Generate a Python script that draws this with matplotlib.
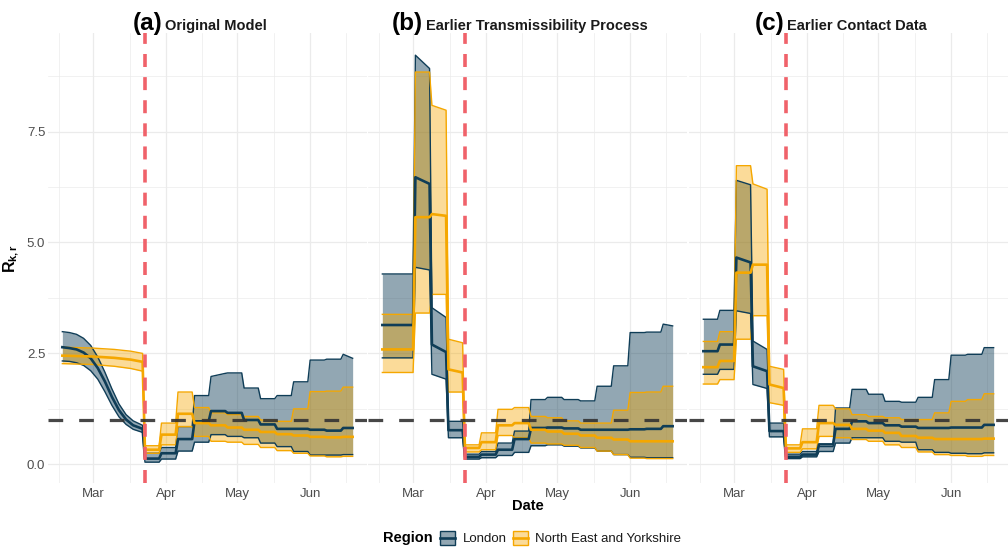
import numpy as np
import matplotlib
matplotlib.use("Agg")
import matplotlib.pyplot as plt
import matplotlib.dates as mdates
from matplotlib.offsetbox import TextArea, HPacker, AnchoredOffsetbox
from matplotlib.patches import Patch, Rectangle
from matplotlib.lines import Line2D
from matplotlib.legend_handler import HandlerBase
from matplotlib.colors import to_rgba

plt.rcParams['font.family'] = ['Liberation Sans', 'DejaVu Sans']
plt.rcParams['mathtext.fontset'] = 'custom'
plt.rcParams['mathtext.rm'] = 'Liberation Sans'
plt.rcParams['mathtext.bf'] = 'Liberation Sans:bold'
plt.rcParams['mathtext.it'] = 'Liberation Sans:italic'

# ---------------- data ----------------
REGIONS = ["London", "North East and Yorkshire"]
PANEL_LETTERS = ["(a)", "(b)", "(c)"]
PANEL_TITLES = ["Original Model", "Earlier Transmissibility Process", "Earlier Contact Data"]
MONTH_TICKS = ["2020-03-01", "2020-04-01", "2020-05-01", "2020-06-01"]
Y_TICKS = [0.0, 2.5, 5.0, 7.5]
Y_TICK_LABELS = ["0.0", "2.5", "5.0", "7.5"]
LOCKDOWN = "2020-03-23"
THRESHOLD = 1.0
END_DATE = "2020-06-19"

# weekly segments after lockdown (start dates)
POST_STARTS = ["2020-03-23", "2020-03-30", "2020-04-06", "2020-04-13", "2020-04-20",
               "2020-04-27", "2020-05-04", "2020-05-11", "2020-05-18", "2020-05-25",
               "2020-06-01", "2020-06-08", "2020-06-15"]

# ---- panel (a): smooth pre-lockdown curves ----
A_LON_PRE_DATES = ["2020-02-17", "2020-02-20", "2020-02-23", "2020-02-26", "2020-02-29",
                   "2020-03-03", "2020-03-06", "2020-03-09", "2020-03-12", "2020-03-15",
                   "2020-03-18", "2020-03-22"]
A_LON_PRE_HI = [2.99, 2.97, 2.93, 2.84, 2.68, 2.42, 2.08, 1.70, 1.36, 1.12, 0.98, 0.88]
A_LON_PRE_MED = [2.64, 2.62, 2.59, 2.52, 2.39, 2.17, 1.87, 1.52, 1.22, 1.01, 0.88, 0.80]
A_LON_PRE_LO = [2.33, 2.32, 2.29, 2.23, 2.11, 1.92, 1.64, 1.33, 1.07, 0.90, 0.79, 0.72]

A_NE_PRE_DATES = ["2020-02-17", "2020-03-01", "2020-03-10", "2020-03-17", "2020-03-22"]
A_NE_PRE_HI = [2.64, 2.62, 2.59, 2.55, 2.50]
A_NE_PRE_MED = [2.45, 2.43, 2.40, 2.36, 2.31]
A_NE_PRE_LO = [2.27, 2.25, 2.21, 2.16, 2.10]

# ---- panel (a): weekly post-lockdown ----
A_LON_HI = [0.25, 0.38, 0.85, 1.55, (1.98, 2.05), 2.06, 1.72, 1.48, 1.55, 1.86, 2.35, 2.37, (2.48, 2.39)]
A_LON_MED = [0.13, 0.25, 0.57, 0.97, 1.20, 1.16, 1.00, 0.90, 0.80, 0.80, 0.78, 0.76, 0.82]
A_LON_LO = [0.05, 0.12, 0.30, 0.50, 0.67, 0.63, 0.60, 0.48, 0.40, 0.29, 0.21, 0.21, 0.22]
A_NE_HI = [0.42, 0.93, 1.63, 1.28, 1.16, 1.12, 1.08, 1.00, 0.97, 1.25, 1.64, 1.65, 1.74]
A_NE_MED = [0.33, 0.67, 1.14, 0.93, 0.88, 0.83, 0.78, 0.73, 0.68, 0.65, 0.62, 0.61, 0.62]
A_NE_LO = [0.25, 0.44, 0.85, 0.63, 0.52, 0.50, 0.45, 0.38, 0.31, 0.25, 0.19, 0.17, 0.18]

# ---- panel (b): weekly segments ----
B_PRE_STARTS = ["2020-02-17", "2020-03-02", "2020-03-09", "2020-03-16"]
B_LON_HI = [4.29, (9.22, 8.92), (3.53, 3.31), 0.97,
            0.23, 0.29, 0.48, 0.75, 1.46, 1.51, 1.46, 1.43, 1.76, 2.22, 2.97, 2.98, (3.16, 3.12)]
B_LON_MED = [3.14, (6.47, 6.32), (2.70, 2.53), 0.77,
             0.17, 0.22, 0.33, 0.57, 0.82, 0.83, 0.81, 0.78, 0.78, 0.78, 0.79, 0.80, 0.86]
B_LON_LO = [2.40, (4.44, 4.38), (2.03, 1.92), 0.60,
            0.12, 0.15, 0.20, 0.27, 0.42, 0.44, 0.41, 0.37, 0.30, 0.22, 0.16, 0.15, 0.15]
B_NE_HI = [3.38, 8.84, (8.09, 7.98), (2.82, 2.74),
           0.44, 0.71, 1.24, 1.28, 1.08, 1.05, 0.98, 0.93, 0.93, 1.22, 1.62, 1.63, 1.76]
B_NE_MED = [2.59, 5.57, (5.64, 5.60), (2.14, 2.07),
            0.37, 0.50, 0.88, 0.93, 0.78, 0.74, 0.69, 0.65, 0.60, 0.56, 0.52, 0.52, 0.52]
B_NE_LO = [2.07, 3.41, 3.83, 1.63,
           0.28, 0.33, 0.65, 0.60, 0.48, 0.46, 0.43, 0.38, 0.30, 0.22, 0.14, 0.13, 0.13]

# ---- panel (c): weekly segments ----
C_PRE_STARTS = ["2020-02-17", "2020-02-24", "2020-03-02", "2020-03-09", "2020-03-16"]
C_LON_HI = [3.27, 3.47, (6.40, 6.30), (2.78, 2.59), 0.93,
            0.23, 0.29, 0.40, 1.27, 1.69, 1.58, 1.42, 1.40, 1.51, 1.91, 2.46, 2.48, 2.63]
C_LON_MED = [2.55, 2.70, (4.66, 4.55), (2.21, 2.10), 0.75,
             0.17, 0.22, 0.45, 0.80, 0.97, 0.93, 0.88, 0.85, 0.82, 0.82, 0.83, 0.83, 0.89]
C_LON_LO = [2.03, 2.14, (3.46, 3.40), (1.80, 1.71), 0.62,
            0.13, 0.17, 0.29, 0.48, 0.60, 0.60, 0.52, 0.50, 0.33, 0.27, 0.25, 0.24, 0.26]
C_NE_HI = [2.77, 2.99, 6.73, (6.32, 6.20), (2.21, 2.14),
           0.44, 0.80, 1.33, 1.25, 1.12, 1.08, 1.05, 1.01, 1.01, 1.16, 1.42, 1.46, 1.59]
C_NE_MED = [2.19, 2.33, 4.32, 4.50, (1.80, 1.72),
            0.36, 0.50, 0.93, 0.89, 0.80, 0.76, 0.71, 0.64, 0.60, 0.57, 0.57, 0.57, 0.58]
C_NE_LO = [1.81, 1.91, 2.82, 3.35, (1.39, 1.33),
           0.27, 0.35, 0.63, 0.60, 0.56, 0.52, 0.44, 0.38, 0.28, 0.22, 0.20, 0.18, 0.20]

# ---------------- styling ----------------
LON_COL = "#0f3d57"
NE_COL = "#f5a700"
LON_FILL = to_rgba(LON_COL, 0.45)
NE_FILL = to_rgba(NE_COL, 0.40)
RED = "#f0626a"
GRID = "#ebebeb"
TXT_GREY = "#4d4d4d"


def step_points(starts, end, values):
    xs, ys = [], []
    ds = [np.datetime64(s) for s in starts]
    for i, v in enumerate(values):
        s = ds[i]
        e = ds[i + 1] - np.timedelta64(1, 'D') if i + 1 < len(ds) else np.datetime64(end)
        v0, v1 = v if isinstance(v, tuple) else (v, v)
        xs += [s, e]
        ys += [v0, v1]
    return np.array(xs, dtype='datetime64[D]'), np.array(ys)


def series(pre_dates, pre_vals, starts, step_vals):
    xs, ys = step_points(starts, END_DATE, step_vals)
    if pre_dates is not None:
        px = np.array([np.datetime64(d) for d in pre_dates], dtype='datetime64[D]')
        xs = np.concatenate([px, xs])
        ys = np.concatenate([np.array(pre_vals), ys])
    return xs, ys


panels = []
lon = [series(A_LON_PRE_DATES, v0, POST_STARTS, v1) for v0, v1 in
       [(A_LON_PRE_LO, A_LON_LO), (A_LON_PRE_MED, A_LON_MED), (A_LON_PRE_HI, A_LON_HI)]]
ne = [series(A_NE_PRE_DATES, v0, POST_STARTS, v1) for v0, v1 in
      [(A_NE_PRE_LO, A_NE_LO), (A_NE_PRE_MED, A_NE_MED), (A_NE_PRE_HI, A_NE_HI)]]
panels.append((lon, ne))
bs = B_PRE_STARTS + POST_STARTS
panels.append(([series(None, None, bs, v) for v in (B_LON_LO, B_LON_MED, B_LON_HI)],
               [series(None, None, bs, v) for v in (B_NE_LO, B_NE_MED, B_NE_HI)]))
cs = C_PRE_STARTS + POST_STARTS
panels.append(([series(None, None, cs, v) for v in (C_LON_LO, C_LON_MED, C_LON_HI)],
               [series(None, None, cs, v) for v in (C_NE_LO, C_NE_MED, C_NE_HI)]))

# ---------------- figure ----------------
W, H = 1008, 550
fig = plt.figure(figsize=(W / 100, H / 100), dpi=100)
fig.patch.set_facecolor("white")

ax_lefts = [48, 368, 689]
ax_w = 319
ax_top, ax_bot = 33, 483
XLIM = (np.datetime64("2020-02-10T22"), np.datetime64("2020-06-25T02"))
YLIM = (-0.42, 9.72)

month_major = [np.datetime64(m, 'D') for m in ["2020-02-01"] + MONTH_TICKS + ["2020-07-01"]]
minor_x = []
for i in range(len(month_major) - 1):
    a = mdates.date2num(month_major[i]); b = mdates.date2num(month_major[i + 1])
    minor_x.append((a + b) / 2)

axes = []
for k, (lon, ne) in enumerate(panels):
    ax = fig.add_axes([ax_lefts[k] / W, 1 - ax_bot / H, ax_w / W, (ax_bot - ax_top) / H])
    axes.append(ax)
    for s in ax.spines.values():
        s.set_visible(False)
    ax.set_xlim(XLIM)
    ax.set_ylim(YLIM)
    ax.set_xticks([mdates.date2num(np.datetime64(m, 'D')) for m in MONTH_TICKS])
    ax.set_xticks(minor_x, minor=True)
    ax.xaxis.set_major_formatter(mdates.DateFormatter('%b'))
    ax.set_yticks(Y_TICKS)
    ax.set_yticks([1.25, 3.75, 6.25, 8.75], minor=True)
    if k == 0:
        ax.set_yticklabels(Y_TICK_LABELS)
    else:
        ax.set_yticklabels([])
    ax.tick_params(which='both', length=0)
    ax.tick_params(axis='x', labelsize=9.5, labelcolor=TXT_GREY, pad=3.5)
    ax.tick_params(axis='y', labelsize=9.5, labelcolor=TXT_GREY, pad=2)
    ax.grid(which='major', color=GRID, lw=0.9)
    ax.grid(which='minor', color=GRID, lw=0.5)
    ax.set_axisbelow(True)

    for grp, fc in [(lon, LON_FILL), (ne, NE_FILL)]:
        (x, lo), (_, med), (_, hi) = grp
        ax.fill_between(x, lo, hi, color=fc, lw=0, zorder=2)
    for grp, col in [(lon, LON_COL), (ne, NE_COL)]:
        (x, lo), (_, med), (_, hi) = grp
        ax.plot(x, lo, color=col, lw=1.0, zorder=3)
        ax.plot(x, hi, color=col, lw=1.0, zorder=3)
        ax.plot(x, med, color=col, lw=1.9, zorder=4)

    ax.axhline(THRESHOLD, color="#333333", lw=2.3, dashes=(4.6, 5.0), alpha=0.9, zorder=5)
    ax.axvline(np.datetime64(LOCKDOWN), color=RED, lw=2.6, dashes=(3.6, 2.8), zorder=6)

    t1 = TextArea(PANEL_LETTERS[k], textprops=dict(fontsize=17.5, fontweight='bold', color='black'))
    t2 = TextArea(PANEL_TITLES[k], textprops=dict(fontsize=10.5, fontweight='bold', color='#1a1a1a'))
    box = HPacker(children=[t1, t2], align="baseline", pad=0, sep=2)
    anc = AnchoredOffsetbox(loc='lower center', child=box, pad=0, borderpad=0, frameon=False,
                            bbox_to_anchor=(0.475, 0.995), bbox_transform=ax.transAxes)
    ax.add_artist(anc)

axes[0].set_ylabel(r"$\mathbf{R_{k,r}}$", fontsize=11.5, labelpad=4)

fig.text((ax_lefts[1] + ax_w / 2) / W, 1 - 506 / H, "Date", ha='center', va='center',
         fontsize=10.5, fontweight='bold')


class RibbonHandler(HandlerBase):
    def __init__(self, fill, edge):
        super().__init__()
        self.fill = fill
        self.edge = edge

    def create_artists(self, legend, orig_handle, xdescent, ydescent, width, height,
                       fontsize, trans):
        r = Rectangle((-xdescent, -ydescent), width, height, facecolor=self.fill,
                      edgecolor=self.edge, lw=1.0, transform=trans)
        ln = Line2D([-xdescent, -xdescent + width], [-ydescent + height / 2] * 2,
                    color=self.edge, lw=1.9, transform=trans)
        return [r, ln]


h_lon = Patch(facecolor=LON_FILL, edgecolor=LON_COL)
h_ne = Patch(facecolor=NE_FILL, edgecolor=NE_COL)
leg = fig.legend([h_lon, h_ne], REGIONS, loc='center left', bbox_to_anchor=(440 / W, 1 - 538 / H),
                 ncol=2, frameon=False, fontsize=9.5, handlelength=1.15, handleheight=1.3,
                 handletextpad=0.55, columnspacing=0.5, borderpad=0, borderaxespad=0,
                 handler_map={h_lon: RibbonHandler(LON_FILL, LON_COL),
                              h_ne: RibbonHandler(NE_FILL, NE_COL)})
for t in leg.get_texts():
    t.set_color('#1a1a1a')
fig.text(433 / W, 1 - 538 / H, "Region", ha='right', va='center', fontsize=10.5, fontweight='bold')

fig.savefig("out.png", dpi=100)
